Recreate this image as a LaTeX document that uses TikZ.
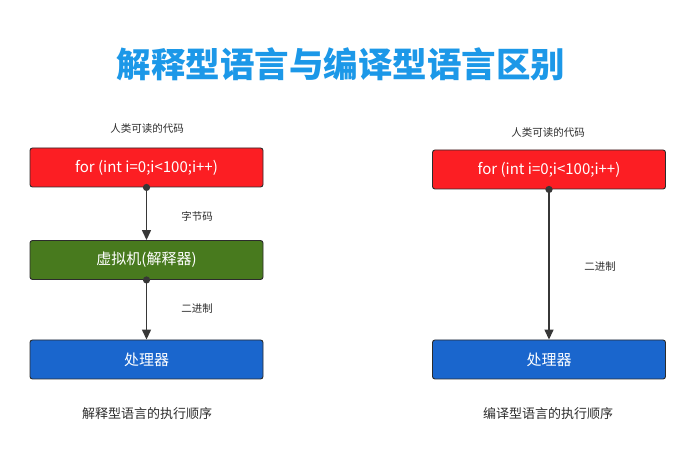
\documentclass[tikz,border=0pt]{standalone}
\usepackage{fontspec}
\setmainfont{Noto Sans CJK SC}
\usetikzlibrary{arrows.meta}
\definecolor{boxred}{RGB}{252,30,35}
\definecolor{boxgreen}{RGB}{72,122,30}
\definecolor{boxblue}{RGB}{26,102,205}
\definecolor{titleblue}{RGB}{28,152,232}
\definecolor{linegray}{RGB}{55,55,55}
\definecolor{txtgray}{RGB}{45,45,45}
\begin{document}
\begin{tikzpicture}[x=1pt,y=-1pt,
  box/.style={draw=linegray!80!black,line width=0.9pt,rounded corners=2.5pt,minimum width=233pt,minimum height=39pt,text=white,font=\fontsize{15}{17}\selectfont,inner sep=0pt},
  lbl/.style={text=txtgray,font=\fontsize{10.5}{12}\selectfont,inner sep=0pt},
  captext/.style={text=txtgray,font=\fontsize{13}{15}\selectfont,inner sep=0pt},
  conn/.style={draw=linegray,line width=1.4pt,-{Triangle[length=10pt,width=9pt]}},
  dot/.style={fill=linegray}]
\useasboundingbox (0,0) rectangle (678,454);
\fill[white] (0,0) rectangle (678,454);
\node[text=titleblue,font=\fontsize{34.5}{38}\selectfont\bfseries,inner sep=0pt] (title) at (341,64) {解释型语言与编译型语言区别};
% left
\node[lbl] (lh) at (147,129) {人类可读的代码};
\node[box,fill=boxred] (lcode) at (146.5,167.5) {for (int i=0;i<100;i++)};
\node[box,fill=boxgreen] (lvm) at (146.5,260) {虚拟机(解释器)};
\node[box,fill=boxblue] (lcpu) at (146.5,359.5) {处理器};
\draw[conn] (lcode) -- (lvm);
\draw[conn] (lvm) -- (lcpu);
\fill[dot] (lcode.south) circle (3.6pt);
\fill[dot] (lvm.south) circle (3.6pt);
\node[lbl] (lb1) at (197,216) {字节码};
\node[lbl] (lb2) at (197,309) {二进制};
\node[captext] (lcap) at (147,414) {解释型语言的执行顺序};
% right
\node[lbl] (rh) at (548,133) {人类可读的代码};
\node[box,fill=boxred] (rcode) at (549,169.5) {for (int i=0;i<100;i++)};
\node[box,fill=boxblue] (rcpu) at (549,359.5) {处理器};
\draw[conn] (rcode) -- (rcpu);
\fill[dot] (rcode.south) circle (3.6pt);
\node[lbl] (rb) at (600,267) {二进制};
\node[captext] (rcap) at (548,414) {编译型语言的执行顺序};
\end{tikzpicture}
\end{document}
